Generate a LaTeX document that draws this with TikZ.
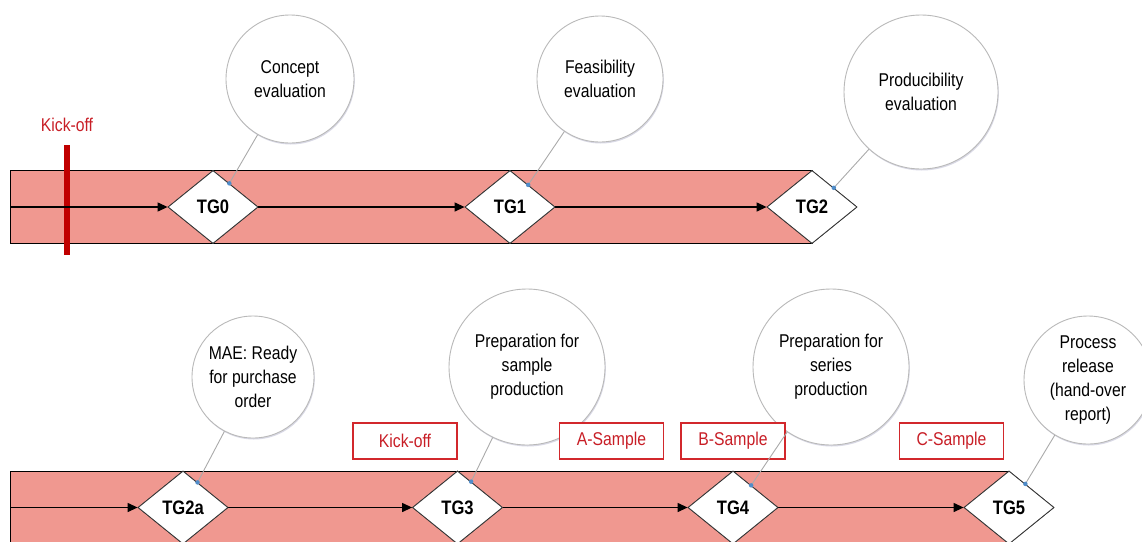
\documentclass[tikz,border=0pt]{standalone}
\usepackage{fontspec}
\setmainfont{Liberation Sans}[FakeStretch=0.85]
\usetikzlibrary{shapes.geometric,arrows.meta,calc,shadows}

\definecolor{bandpink}{RGB}{240,152,144}
\definecolor{barred}{RGB}{192,0,0}
\definecolor{labelred}{RGB}{200,30,38}
\definecolor{boxred}{RGB}{210,40,44}
\definecolor{bubblegray}{RGB}{185,185,185}
\definecolor{linkgray}{RGB}{170,170,170}
\definecolor{pinblue}{RGB}{80,140,200}

\tikzset{
  band/.style={draw=black, line width=1pt, fill=bandpink},
  gate/.style={diamond, draw=black!80, line width=0.8pt, fill=white,
    minimum width=90pt, minimum height=73pt, inner sep=0pt,
    font=\bfseries\fontsize{19.5}{22}\selectfont},
  flow/.style={line width=1.2pt, -{Triangle[length=10pt,width=9pt]}},
  bubble/.style={circle, draw=bubblegray, line width=0.9pt, fill=white,
    align=center, inner sep=0pt, font=\fontsize{18.5}{24}\selectfont,
    drop shadow={shadow xshift=0.8pt, shadow yshift=-1.5pt, opacity=0.25, fill=blue!20!gray}},
  link/.style={draw=linkgray, line width=0.9pt},
  pin/.style={circle, fill=pinblue, inner sep=0pt, minimum size=4.5pt},
  phase/.style={draw=boxred, line width=1.1pt, fill=white, text=labelred, inner sep=0pt,
    minimum width=104pt, minimum height=36pt, font=\fontsize{18.5}{22}\selectfont},
  milestone/.style={text=labelred, font=\fontsize{18.5}{22}\selectfont}
}

\begin{document}
\begin{tikzpicture}[x=1pt,y=-1pt]
\useasboundingbox (0,0) rectangle (1142,541);
\clip (0,0) rectangle (1142,541);

% ---------- upper phase band ----------
\draw[band] (10,170) rectangle (812,243);
\draw[barred, line width=6pt] (67,145) -- (67,255);
\node[milestone] (kick) at (67,125) {Kick-off};

\coordinate (s0) at (10,207);
\node[gate] (tg0) at (213,207) {TG0};
\node[gate] (tg1) at (510,207) {TG1};
\node[gate] (tg2) at (812,207) {TG2};
\draw[flow] (s0) -- (tg0.west);
\draw[flow] (tg0.east) -- (tg1.west);
\draw[flow] (tg1.east) -- (tg2.west);
\node[gate] at (tg0) {TG0};
\node[gate] at (tg1) {TG1};
\node[gate] at (tg2) {TG2};

% ---------- lower phase band ----------
\draw[band] (10,471) rectangle (1009,560);
\coordinate (s1) at (10,507.5);
\node[gate] (tg2a) at (183,507.5) {TG2a};
\node[gate] (tg3) at (457.5,507.5) {TG3};
\node[gate] (tg4) at (733,507.5) {TG4};
\node[gate] (tg5) at (1009,507.5) {TG5};
\draw[flow] (s1) -- (tg2a.west);
\draw[flow] (tg2a.east) -- (tg3.west);
\draw[flow] (tg3.east) -- (tg4.west);
\draw[flow] (tg4.east) -- (tg5.west);
\node[gate] at (tg2a) {TG2a};
\node[gate] at (tg3) {TG3};
\node[gate] at (tg4) {TG4};
\node[gate] at (tg5) {TG5};

% ---------- callout bubbles ----------
\node[bubble, minimum size=128pt] (c0) at (290,79) {Concept\\evaluation};
\node[bubble, minimum size=126pt] (c1) at (600,79) {Feasibility\\evaluation};
\node[bubble, minimum size=154pt] (c2) at (921,92) {Producibility\\evaluation};
\node[bubble, minimum size=122pt] (c3) at (253,377) {MAE: Ready\\for purchase\\order};
\node[bubble, minimum size=156pt] (c4) at (527,367) {Preparation for\\sample\\production};
\node[bubble, minimum size=156pt] (c5) at (831,367) {Preparation for\\series\\production};
\node[bubble, minimum size=128pt] (c6) at (1088,380) {Process\\release\\(hand-over\\report)};

% ---------- sample phase labels ----------
\node[phase] (pk) at (405,441) {Kick-off};
\node[phase] (pa) at (611.5,441) {A-Sample};
\node[phase] (pb) at (733,441) {B-Sample};
\node[phase] (pc) at (951.5,441) {C-Sample};

% ---------- anchor points on the gates ----------
\coordinate (p0) at ($(tg0.north)!0.36!(tg0.east)$);
\coordinate (p1) at ($(tg1.north)!0.40!(tg1.east)$);
\coordinate (p2) at ($(tg2.north)!0.48!(tg2.east)$);
\coordinate (p2a) at ($(tg2a.north)!0.32!(tg2a.east)$);
\coordinate (p3) at ($(tg3.north)!0.30!(tg3.east)$);
\coordinate (p4) at ($(tg4.north)!0.40!(tg4.east)$);
\coordinate (p5) at ($(tg5.north)!0.36!(tg5.east)$);

\draw[link] (p0) -- (c0);
\draw[link] (p1) -- (c1);
\draw[link] (p2) -- (c2);
\draw[link] (p2a) -- (c3);
\draw[link] (p3) -- (c4);
\draw[link] (p4) -- (c5);
\draw[link] (p5) -- (c6);

\foreach \p in {p0,p1,p2,p2a,p3,p4,p5}
  \node[pin] at (\p) {};
\end{tikzpicture}
\end{document}
